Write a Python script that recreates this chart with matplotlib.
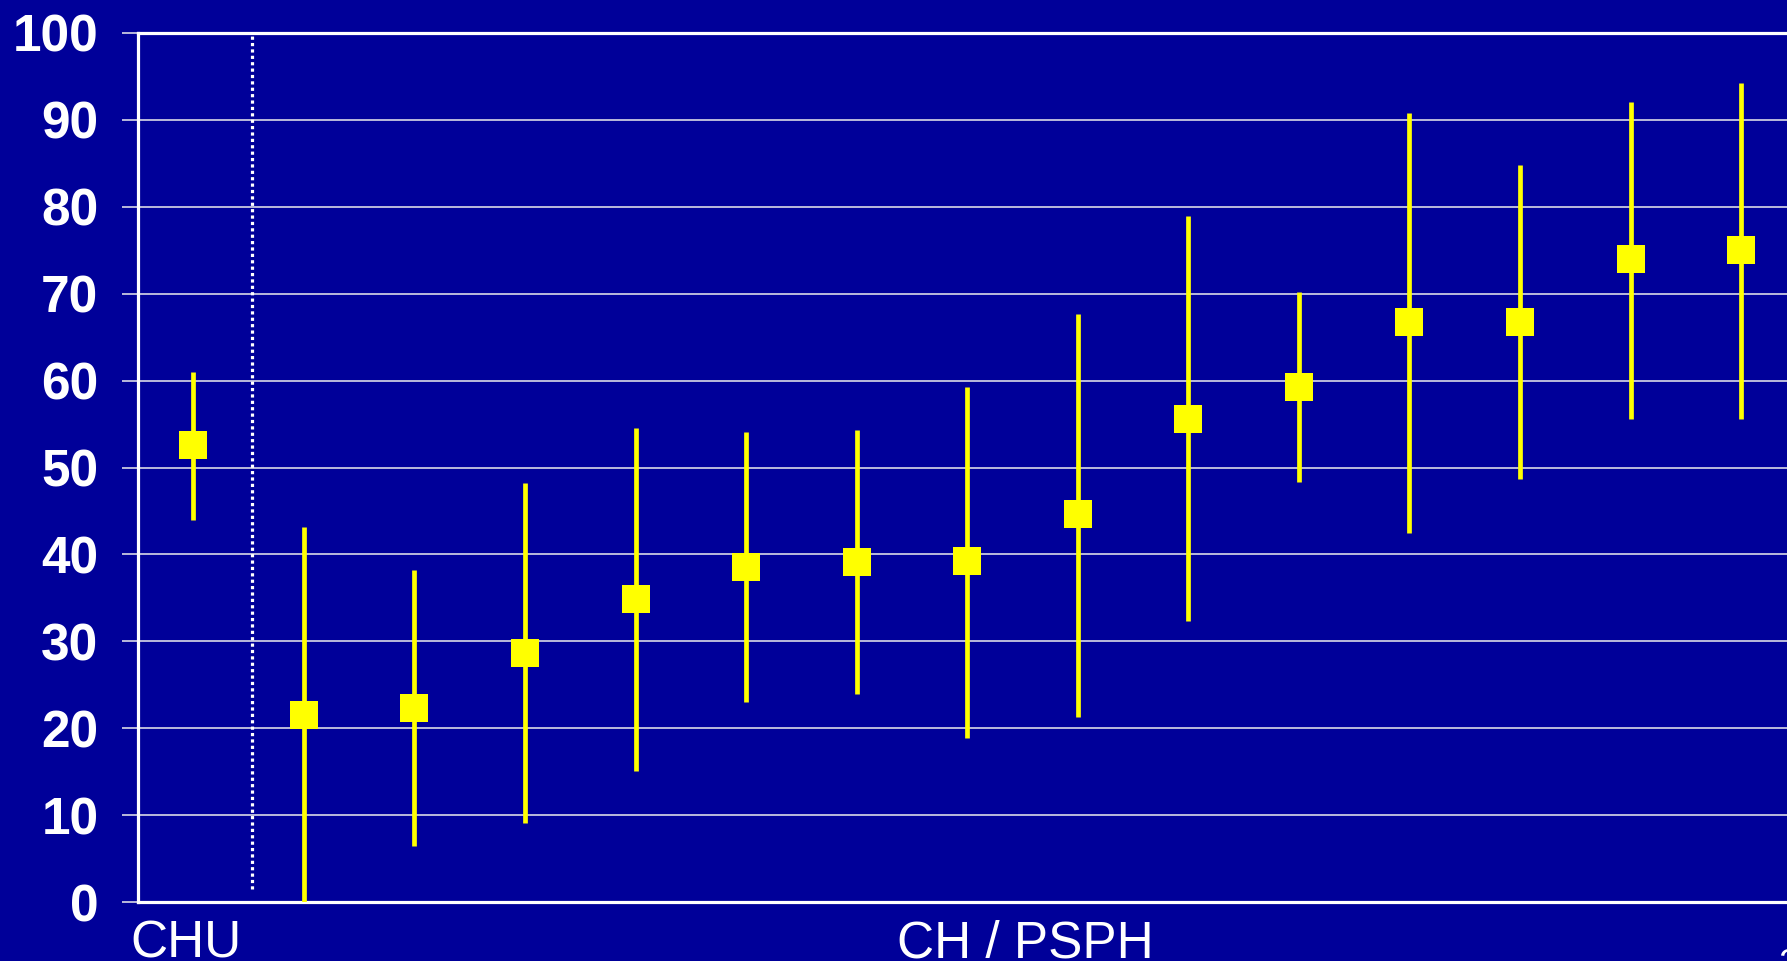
import matplotlib
matplotlib.use("Agg")
import matplotlib.pyplot as plt
import numpy as np

plt.rcParams['font.family'] = ['Liberation Sans', 'DejaVu Sans']

# data
groups = ["CHU"] + ["CH / PSPH"] * 14
centers = [52.6, 21.5, 22.3, 28.7, 34.9, 38.6, 39.1, 39.2, 44.6, 55.6, 59.3, 66.8, 66.8, 74.0, 75.0]
upper = [61.0, 43.2, 38.2, 48.2, 54.6, 54.1, 54.3, 59.3, 67.7, 78.9, 70.2, 90.8, 84.8, 92.1, 94.2]
lower = [44.0, 0.0, 6.4, 9.1, 15.1, 23.0, 23.9, 18.9, 21.3, 32.3, 48.3, 42.5, 48.7, 55.6, 55.6]
yticks = [0, 10, 20, 30, 40, 50, 60, 70, 80, 90, 100]

BG = "#000099"
W, H = 1787, 961
fig = plt.figure(figsize=(W / 100, H / 100), dpi=100, facecolor=BG)
ax = fig.add_axes([138 / W, 59 / H, (1907 - 138) / W, 869 / H], facecolor=BG)

x = np.arange(len(centers))
c = np.array(centers)
yerr = np.vstack([c - np.array(lower), np.array(upper) - c])
ax.errorbar(x, c, yerr=yerr, fmt="s", color="#FFFF00", ecolor="#FFFF00",
            elinewidth=3.4, capsize=0, markersize=19.5, markeredgewidth=0, zorder=3)

# separator between CHU and CH/PSPH
ax.axvline(0.53, ymin=0.015, ymax=1.0, color="white", lw=2.3,
           linestyle=(0, (1, 1)), zorder=2)

ax.set_xlim(-0.5, 15.5)
ax.set_ylim(0, 100)
ax.set_yticks(yticks)
ax.set_yticklabels([str(t) for t in yticks], fontsize=37, fontweight="bold", color="white")
ax.set_xticks([])
ax.tick_params(axis="y", length=11.5, width=1.3, color="#c8c8e0", pad=17)
ax.yaxis.grid(True, color="#c8c8e0", lw=1.3, zorder=1)
ax.set_axisbelow(True)
for side in ["left", "bottom", "top", "right"]:
    ax.spines[side].set_color("white")
    ax.spines[side].set_linewidth(2.3)

fig.text(130 / W, 1 - 957 / H, "CHU", fontsize=37, color="white", ha="left", va="baseline")
fig.text(897 / W, 1 - 957 / H, "CH / PSPH", fontsize=37, color="white", ha="left", va="baseline")
fig.text(1778 / W, 1 - 975 / H, "2", fontsize=26, color="white", ha="left", va="baseline")

fig.savefig("out.png", dpi=100, facecolor=BG)
